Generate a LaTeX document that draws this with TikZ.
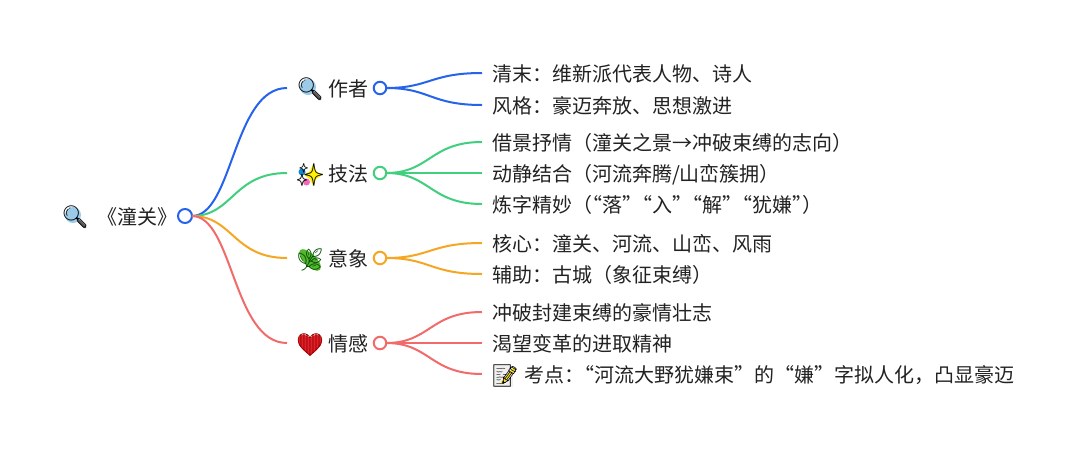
\documentclass[tikz,border=0pt]{standalone}
\usepackage{fontspec}
\setmainfont{Noto Sans CJK SC}
\newfontfamily\emojifont{Noto Emoji}
\usepackage{xcolor}
\usetikzlibrary{positioning,calc}
\definecolor{bluebr}{HTML}{2563EB}
\definecolor{greenbr}{HTML}{3FCF7F}
\definecolor{orangebr}{HTML}{F5A623}
\definecolor{redbr}{HTML}{F26B6B}
\definecolor{inkcol}{HTML}{222222}
\definecolor{lenscol}{HTML}{9CCBEA}
\definecolor{leafcol}{HTML}{55B52F}
\definecolor{heartcol}{HTML}{E0202A}
\newcommand{\qk}{\kern-10pt}
\tikzset{
    txt/.style={anchor=west, inner xsep=10pt, inner ysep=0pt, outer sep=0pt, text=inkcol, text height=19pt, text depth=1.8pt, font=\fontsize{20}{24}\selectfont},
    dot/.style={circle, draw=#1, fill=white, line width=2pt, minimum size=12.5pt, inner sep=0pt, outer sep=0pt},
    wire/.style={draw=#1, line width=2pt},
    glyph/.style={inner sep=0pt, outer sep=0pt, text=#1, font=\emojifont\fontsize{22}{22}\selectfont},
    lenspic/.pic={
        \fill[lenscol] (-2,-2) circle (8);
        \draw[black!65, line width=3pt, line cap=round] (4,4) -- (10,10);
    },
    sparkpic/.pic={
        \fill[yellow] (3,-11) -- (6,-4) -- (12,0) -- (6,4) -- (3,11) -- (0,4) -- (-6,0) -- (0,-4) -- cycle;
        \fill[cyan!70!blue] (-8,-3) circle (3.5);
        \fill[magenta!60] (-3.5,7) circle (3.5);
    },
    leafpic/.pic={
        \fill[leafcol, rotate=-45] (0,0) ellipse (14 and 6);
        \fill[leafcol] (-6,-6) circle (4.5);
        \fill[leafcol] (6,5) circle (4.5);
    },
    heartpic/.pic={
        \fill[heartcol] (0,11) .. controls (-5,6) and (-12,2) .. (-12,-4) .. controls (-12,-12) and (-3,-12) .. (0,-6) .. controls (3,-12) and (12,-12) .. (12,-4) .. controls (12,2) and (5,6) .. (0,11) -- cycle;
    },
    notepic/.pic={
        \fill[black!6] (-10,-10) rectangle (8,11);
        \draw[yellow!85!orange, line width=2.5pt] (-3,7) -- (10,-8);
    },
}
\begin{document}
\begin{tikzpicture}[x=1pt, y=-1pt]
    \path[use as bounding box, fill=white] (0,0) rectangle (1080,448);
    % root
    \pic at (75,217) {lenspic};
    \node[glyph=black] (rooticon) at (75,217) {🔍};
    \node[txt, inner xsep=0pt] (root) at (97,216) {《潼关》};
    \node[dot=bluebr, minimum size=14pt] (rootdot) at (185,216) {};
    % branches
    \pic at (310,89) {lenspic};
    \node[glyph=black] (authicon) at (310,89) {🔍};
    \node[txt] (auth) at (318,88) {作者};
    \coordinate (authin) at (287,88);
    \node[dot=bluebr] (authdot) at (380,88) {};
    \pic at (310,175) {sparkpic};
    \node[glyph=black] (techicon) at (310,175) {✨};
    \node[txt] (tech) at (318,173) {技法};
    \coordinate (techin) at (287,173);
    \node[dot=greenbr] (techdot) at (380,173) {};
    \pic at (310,260) {leafpic};
    \node[glyph=black!70!green] (imgicon) at (310,260) {🌿};
    \node[txt] (img) at (318,258) {意象};
    \coordinate (imgin) at (287,258);
    \node[dot=orangebr] (imgdot) at (380,258) {};
    \pic at (310,345) {heartpic};
    \node[glyph=red!60!black] (feelicon) at (310,345) {❤};
    \node[txt] (feel) at (318,343) {情感};
    \coordinate (feelin) at (287,343);
    \node[dot=redbr] (feeldot) at (380,343) {};
    % leaves
    \node[txt] (a1) at (482,73) {清末：维新派代表人物、诗人};
    \node[txt] (a2) at (482,105) {风格：豪迈奔放、思想激进};
    \node[txt] (t1) at (482,142) {借景抒情（潼关之景→冲破束缚的志向）};
    \node[txt] (t2) at (482,173) {动静结合（河流奔腾/山峦簇拥）};
    \node[txt] (t3) at (482,204) {炼字精妙（\qk“落”\qk“入”\qk“解”\qk“犹嫌”\qk）};
    \node[txt] (i1) at (482,243) {核心：潼关、河流、山峦、风雨};
    \node[txt] (i2) at (482,274) {辅助：古城（象征束缚）};
    \node[txt] (f1) at (482,312) {冲破封建束缚的豪情壮志};
    \node[txt] (f2) at (482,343) {渴望变革的进取精神};
    \coordinate (f3in) at (482,374);
    \pic at (505,376) {notepic};
    \node[glyph=black] (noteicon) at (505,376) {📝};
    \node[txt, inner xsep=0pt] (f3) at (524,374) {考点：\qk“河流大野犹嫌束”的“嫌”字拟人化，凸显豪迈};
    % connectors
    \draw[wire=bluebr] (rootdot.east) .. controls (233,216) and (233,88) .. (authin);
    \draw[wire=greenbr] (rootdot.east) .. controls (233,216) and (233,173) .. (techin);
    \draw[wire=orangebr] (rootdot.east) .. controls (233,216) and (233,258) .. (imgin);
    \draw[wire=redbr] (rootdot.east) .. controls (233,216) and (233,343) .. (feelin);
    \draw[wire=bluebr] (authdot.east) .. controls (430,88) and (430,73) .. (a1.west);
    \draw[wire=bluebr] (authdot.east) .. controls (430,88) and (430,105) .. (a2.west);
    \draw[wire=greenbr] (techdot.east) .. controls (430,173) and (430,142) .. (t1.west);
    \draw[wire=greenbr] (techdot.east) -- (t2.west);
    \draw[wire=greenbr] (techdot.east) .. controls (430,173) and (430,204) .. (t3.west);
    \draw[wire=orangebr] (imgdot.east) .. controls (430,258) and (430,243) .. (i1.west);
    \draw[wire=orangebr] (imgdot.east) .. controls (430,258) and (430,274) .. (i2.west);
    \draw[wire=redbr] (feeldot.east) .. controls (430,343) and (430,312) .. (f1.west);
    \draw[wire=redbr] (feeldot.east) -- (f2.west);
    \draw[wire=redbr] (feeldot.east) .. controls (430,343) and (430,374) .. (f3in);
\end{tikzpicture}
\end{document}
